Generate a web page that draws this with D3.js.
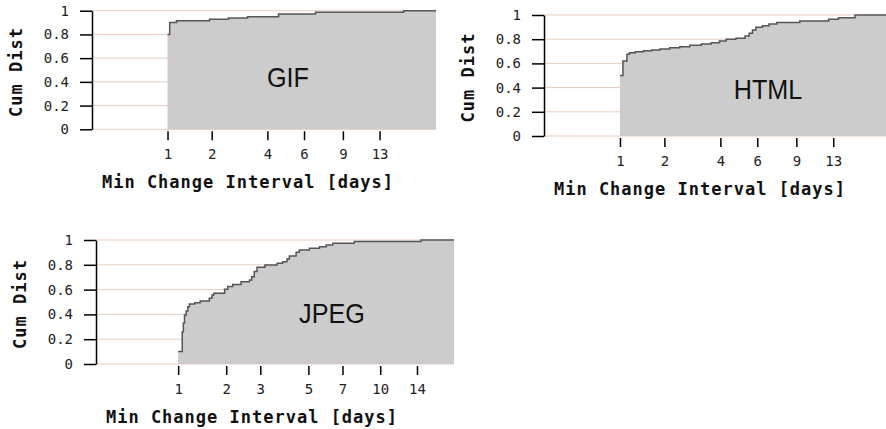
<!DOCTYPE html>
<html>
<head>
<meta charset="utf-8">
<script src="https://cdn.jsdelivr.net/npm/d3@7"></script>
<style>
  body { margin: 0; background: white; }
  .tick text { font-family: "DejaVu Sans Mono", monospace; font-size: 14px; fill: #222; }
  .axis-title { font-family: "DejaVu Sans Mono", monospace; font-weight: bold; font-size: 17px; fill: #111; }
  .panel-label { font-family: "Liberation Sans", Arial, sans-serif; font-size: 28px; fill: #111; }
</style>
</head>
<body>
<svg id="chart"></svg>
<script>
// cumulative distribution of min change interval
const gifDays = [1, 1.04, 1.17, 1.94, 2.5, 3.17, 4.54, 6.78, 16.45];
const gifCum = [0.80, 0.90, 0.915, 0.928, 0.939, 0.95, 0.972, 0.986, 1.0];

const htmlDays = [1, 1.055, 1.13, 1.18, 1.30, 1.48, 1.67, 1.88, 2.15, 2.45, 2.78, 3.20, 3.60, 3.96, 4.27,
    4.76, 5.26, 5.50, 5.70, 5.91, 6.34, 6.79, 7.36, 9.32, 12.41, 13.68, 16.08];
const htmlCum = [0.50, 0.62, 0.675, 0.689, 0.697, 0.705, 0.711, 0.719, 0.730, 0.738, 0.749, 0.760, 0.771, 0.785, 0.799,
    0.807, 0.826, 0.849, 0.876, 0.898, 0.912, 0.926, 0.937, 0.950, 0.964, 0.978, 1.0];

const jpegDays = [1, 1.07, 1.09, 1.11, 1.14, 1.17, 1.20, 1.30, 1.41, 1.60, 1.66, 1.70, 1.96, 2.04, 2.17, 2.40, 2.65,
    2.72, 2.80, 2.89, 3.16, 3.61, 3.83, 4.01, 4.11, 4.41, 4.56, 5.05, 5.59, 5.97, 6.37, 7.84, 14.52];
const jpegCum = [0.10, 0.26, 0.33, 0.395, 0.427, 0.462, 0.484, 0.494, 0.508, 0.530, 0.556, 0.570, 0.602, 0.624, 0.642,
    0.664, 0.677, 0.704, 0.745, 0.780, 0.798, 0.812, 0.825, 0.847, 0.871, 0.901, 0.919, 0.933, 0.946, 0.960, 0.973, 0.987, 1.0];

const gifTicks = [1, 2, 4, 6, 9, 13];
const htmlTicks = [1, 2, 4, 6, 9, 13];
const jpegTicks = [1, 2, 3, 5, 7, 10, 14];
const yTicks = [0, 0.2, 0.4, 0.6, 0.8, 1];

const width = 886, height = 429;

const panels = [
    { name: "GIF", days: gifDays, cum: gifCum, ticks: gifTicks, maxDay: 22.5,
      left: 92, right: 436, top: 10.7, bottom: 129.3, labelX: 288, labelY: 87 },
    { name: "HTML", days: htmlDays, cum: htmlCum, ticks: htmlTicks, maxDay: 22.5,
      left: 544, right: 890, top: 15, bottom: 136, labelX: 768, labelY: 99 },
    { name: "JPEG", days: jpegDays, cum: jpegCum, ticks: jpegTicks, maxDay: 19.5,
      left: 96, right: 454, top: 240, bottom: 364, labelX: 332, labelY: 323 }
];

const svg = d3.select("#chart")
    .attr("width", width)
    .attr("height", height)
    .style("background-color", "white");

panels.forEach(p => {
    // x is log of (days + 1)
    const xScale = d3.scaleLog().domain([1, p.maxDay + 1]).range([p.left, p.right]);
    const x = d => xScale(d + 1);
    const y = d3.scaleLinear().domain([0, 1]).range([p.bottom, p.top]);

    const g = svg.append("g");

    g.selectAll(".grid")
        .data(yTicks)
        .enter().append("line")
        .attr("class", "grid")
        .attr("x1", p.left)
        .attr("x2", p.right)
        .attr("y1", d => y(d))
        .attr("y2", d => y(d))
        .attr("stroke", "#e8cdbf")
        .attr("stroke-width", 1);

    const pts = p.days.map((d, i) => ({ d: d, v: p.cum[i] }));
    pts.push({ d: p.maxDay, v: p.cum[p.cum.length - 1] });

    const area = d3.area()
        .curve(d3.curveStepAfter)
        .x(d => x(d.d))
        .y0(y(0))
        .y1(d => y(d.v));

    const line = d3.line()
        .curve(d3.curveStepAfter)
        .x(d => x(d.d))
        .y(d => y(d.v));

    g.append("path")
        .datum(pts)
        .attr("d", area)
        .attr("fill", "#cccccc");

    g.append("path")
        .datum(pts)
        .attr("d", line)
        .attr("fill", "none")
        .attr("stroke", "#555")
        .attr("stroke-width", 1.5);

    g.append("text")
        .attr("class", "panel-label")
        .attr("transform", `translate(${p.labelX},${p.labelY}) scale(0.9,1)`)
        .attr("text-anchor", "middle")
        .text(p.name);

    // y axis
    const yAxis = g.append("g")
        .attr("transform", `translate(${p.left},0)`)
        .call(d3.axisLeft(y).tickValues(yTicks).tickFormat(d3.format("")).tickSize(12).tickSizeOuter(0).tickPadding(11));
    yAxis.select(".domain").attr("stroke", "#000").attr("stroke-width", 1.5);
    yAxis.selectAll(".tick line").attr("stroke", "#000").attr("stroke-width", 1.5);
    yAxis.selectAll(".tick text").attr("font-family", null).attr("font-size", null);

    // x axis (ticks only, no baseline)
    const xAxis = g.append("g")
        .attr("transform", `translate(0,${p.bottom + 2})`)
        .call(d3.axisBottom(xScale).tickValues(p.ticks.map(t => t + 1)).tickFormat(t => Math.round(t - 1)).tickSize(9).tickPadding(9));
    xAxis.select(".domain").remove();
    xAxis.selectAll(".tick line").attr("stroke", "#000").attr("stroke-width", 1.5);
    xAxis.selectAll(".tick text").attr("font-family", null).attr("font-size", null);

    g.append("text")
        .attr("class", "axis-title")
        .attr("text-anchor", "middle")
        .attr("dominant-baseline", "central")
        .attr("x", p.left + 156)
        .attr("y", p.bottom + 53)
        .style("letter-spacing", "1px")
        .text("Min Change Interval [days]");

    g.append("text")
        .attr("class", "axis-title")
        .attr("text-anchor", "middle")
        .attr("dominant-baseline", "central")
        .attr("transform", `translate(${p.left - 76},${(p.top + p.bottom) / 2 + 2}) rotate(-90)`)
        .style("letter-spacing", "1px")
        .text("Cum Dist");
});
</script>
</body>
</html>
